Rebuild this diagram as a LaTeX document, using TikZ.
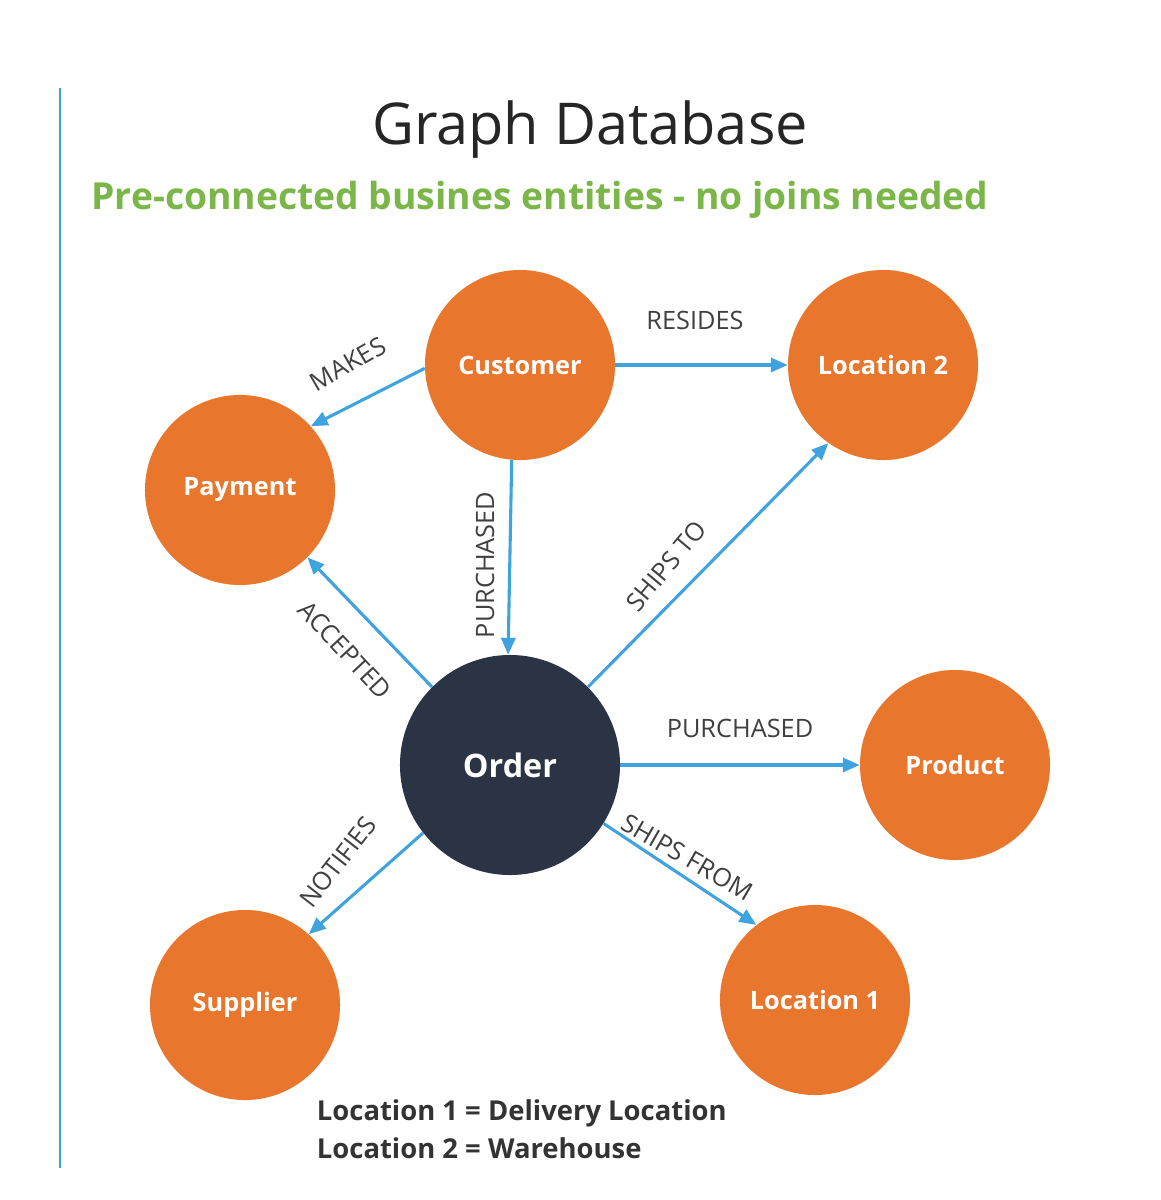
\documentclass[tikz,border=0pt]{standalone}
\usepackage{fontspec}
\setmainfont{Open Sans}
\usetikzlibrary{arrows.meta}
\definecolor{org}{HTML}{E8762D}
\definecolor{dark}{HTML}{2B3445}
\definecolor{arr}{HTML}{3FA3E0}
\definecolor{grn}{HTML}{7AB648}
\begin{document}
\begin{tikzpicture}[x=0.025cm,y=-0.025cm,
  ent/.style={circle,fill=org,text=white,font=\bfseries\fontsize{18}{22}\selectfont,minimum size=4.75cm,inner sep=0pt},
  rel/.style={draw=arr,line width=2.2pt,-{Triangle[length=12pt,width=10pt]}},
  lab/.style={text=black!75,font=\fontsize{18}{20}\selectfont,inner sep=1pt}]
\useasboundingbox[fill=white] (0,0) rectangle (1160,1200);
\draw[arr,line width=1.5pt] (60,88) -- (60,1168);
\node[text=black!85,font=\fontsize{41}{46}\selectfont] (title) at (590,130) {Graph Database};
\node[text=grn,font=\bfseries\fontsize{26.5}{30}\selectfont] (sub) at (540,200) {Pre-connected busines entities - no joins needed};
\node[ent] (cust) at (520,365) {Customer};
\node[ent] (loc2) at (883,365) {Location 2};
\node[ent] (pay) at (240,490) {Payment};
\node[ent,fill=dark,minimum size=5.5cm,font=\bfseries\fontsize{23}{26}\selectfont] (ord) at (510,765) {Order};
\node[ent] (prod) at (955,765) {Product};
\node[ent] (sup) at (245,1005) {Supplier};
\node[ent] (loc1) at (815,1000) {Location 1};
\draw[rel] (cust.182) -- (pay.42);
\draw[rel] (cust.0) -- (loc2.180);
\draw[rel] (cust.265) -- (ord.91);
\draw[rel] (ord.45) -- (loc2.235);
\draw[rel] (ord.135) -- (pay.-45);
\draw[rel] (ord.0) -- (prod.180);
\draw[rel] (ord.218) -- (sup.48);
\draw[rel] (ord.-32) -- (loc1.128);
\node[lab,rotate=30] (l1) at (348,364) {MAKES};
\node[lab] (l2) at (695,320) {RESIDES};
\node[lab,rotate=90] (l3) at (485,565) {PURCHASED};
\node[lab,rotate=50] (l4) at (666,566) {SHIPS TO};
\node[lab,rotate=-47] (l5) at (345,650) {ACCEPTED};
\node[lab] (l6) at (740,728) {PURCHASED};
\node[lab,rotate=52] (l7) at (338,862) {NOTIFIES};
\node[lab,rotate=-30] (l8) at (687,857) {SHIPS FROM};
\node[anchor=north west,align=left,text=black!80,font=\bfseries\fontsize{19.5}{27}\selectfont] (leg) at (312,1095) {Location 1 = Delivery Location\\Location 2 = Warehouse};
\end{tikzpicture}
\end{document}
